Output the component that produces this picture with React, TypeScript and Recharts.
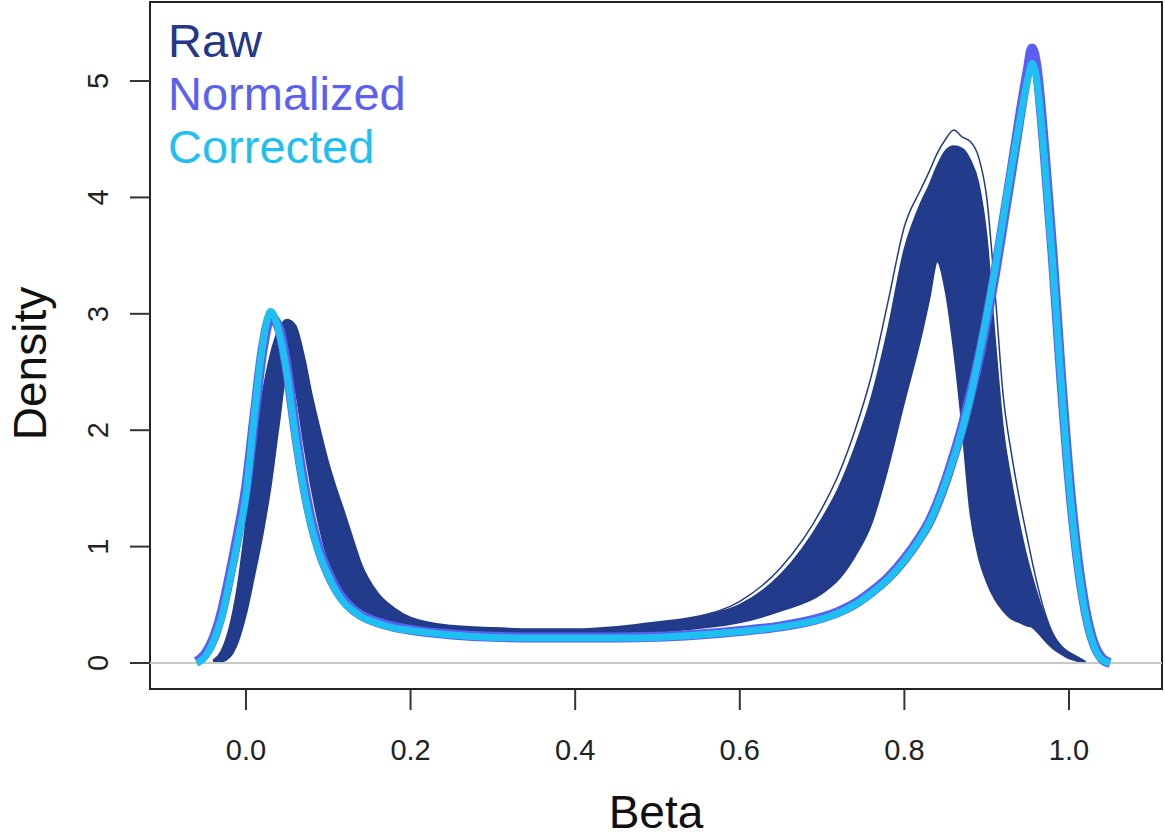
import React from "react"
import {
  ComposedChart,
  Area,
  Line,
  XAxis,
  YAxis,
  Legend,
  Label,
  ReferenceLine,
  ReferenceArea,
} from "recharts"

const betaGrid = [
  -0.06, -0.05, -0.04, -0.03, -0.02, -0.01, 0.0, 0.01, 0.02, 0.03, 0.04, 0.05, 0.06, 0.07, 0.08, 0.09,
  0.1, 0.11, 0.12, 0.13, 0.14, 0.16, 0.18, 0.2, 0.25, 0.3, 0.35, 0.4, 0.45, 0.5, 0.55, 0.6, 0.65, 0.7,
  0.72, 0.74, 0.76, 0.78, 0.8, 0.82, 0.83, 0.84, 0.85, 0.86, 0.87, 0.88, 0.89, 0.9, 0.91, 0.92, 0.93,
  0.94, 0.95, 0.955, 0.96, 0.97, 0.98, 0.99, 1.0, 1.01, 1.02, 1.03, 1.04, 1.05,
]

// raw samples: lowest curve and top of the dense bundle
const rawLow = [
  null, null, 0, 0.01, 0.05, 0.18, 0.42, 0.75, 1.1, 1.52, 2.05, 2.5, 2.35, 1.9, 1.49, 1.15,
  0.88, 0.72, 0.6, 0.52, 0.46, 0.38, 0.33, 0.3, 0.27, 0.26, 0.26, 0.26, 0.265, 0.27, 0.3, 0.35, 0.45, 0.6,
  0.72, 0.92, 1.2, 1.68, 2.25, 2.8, 3.12, 3.45, 3.2, 2.7, 2.05, 1.3, 0.92, 0.7, 0.55, 0.45, 0.38,
  0.35, 0.32, 0.31, 0.28, 0.2, 0.13, 0.08, 0.04, 0.02, 0, null, null, null,
]
const rawHigh = [
  null, null, 0.02, 0.1, 0.3, 0.66, 1.2, 1.8, 2.3, 2.65, 2.87, 2.95, 2.9, 2.65, 2.3, 2.0,
  1.72, 1.49, 1.28, 1.06, 0.85, 0.6, 0.47, 0.39, 0.32, 0.3, 0.29, 0.29, 0.31, 0.35, 0.4, 0.5, 0.76, 1.24,
  1.5, 1.85, 2.28, 2.86, 3.55, 3.95, 4.1, 4.27, 4.4, 4.44, 4.42, 4.32, 4.12, 3.65, 2.78, 2.0, 1.55,
  1.18, 0.87, 0.74, 0.62, 0.41, 0.24, 0.14, 0.09, 0.05, 0.01, null, null, null,
]
// the few outlying raw samples around the high peak
const rawOutlier = [
  null, null, null, null, null, null, null, null, null, null, null, null, null, null, null, null,
  null, null, null, null, null, null, null, null, null, null, null, null, null, null, 0.4, 0.53, 0.82, 1.33,
  1.62, 2.0, 2.47, 3.1, 3.75, 4.07, 4.22, 4.38, 4.5, 4.58, 4.52, 4.48, 4.35, 4.0, 3.2, 2.3, 1.8,
  1.4, 1.05, 0.88, 0.72, 0.45, 0.26, 0.15, 0.09, 0.05, 0.01, null, null, null,
]

const normalizedDensity = [
  0.01, 0.07, 0.2, 0.42, 0.74, 1.1, 1.5, 2.1, 2.68, 2.97, 2.88, 2.52, 2.0, 1.55, 1.2, 0.95,
  0.77, 0.63, 0.53, 0.46, 0.41, 0.35, 0.31, 0.285, 0.245, 0.225, 0.22, 0.22, 0.22, 0.225, 0.245, 0.275, 0.315, 0.39,
  0.44, 0.51, 0.61, 0.73, 0.89, 1.09, 1.21, 1.37, 1.56, 1.78, 2.02, 2.3, 2.6, 2.95, 3.34, 3.78, 4.22,
  4.68, 5.1, 5.28, 5.15, 4.42, 3.52, 2.5, 1.6, 0.92, 0.45, 0.17, 0.04, 0,
]

const correctedDensity = [
  0, 0.05, 0.18, 0.38, 0.7, 1.05, 1.45, 2.12, 2.72, 3.02, 2.85, 2.48, 1.95, 1.5, 1.16, 0.92,
  0.75, 0.61, 0.51, 0.45, 0.4, 0.34, 0.3, 0.28, 0.24, 0.22, 0.215, 0.215, 0.215, 0.22, 0.24, 0.27, 0.31, 0.38,
  0.43, 0.5, 0.6, 0.72, 0.88, 1.08, 1.2, 1.36, 1.55, 1.76, 2.0, 2.28, 2.62, 2.98, 3.38, 3.82, 4.25,
  4.65, 5.02, 5.15, 5.05, 4.35, 3.45, 2.45, 1.55, 0.88, 0.42, 0.15, 0.03, 0,
]

const xTicks = [0, 0.2, 0.4, 0.6, 0.8, 1.0]
const yTicks = [0, 1, 2, 3, 4, 5]

const legendItems = [
  { name: "Raw", color: "#25378a" },
  { name: "Normalized", color: "#5b5ff2" },
  { name: "Corrected", color: "#1ec0f2" },
]

const X_DOMAIN = [-0.1166, 1.113]
const Y_DOMAIN = [-0.2234, 5.679]
const FONT = "'Liberation Sans', Arial, sans-serif"
const RAW = "#233b8b"

const data = betaGrid.map((x, i) => ({
  x,
  raw: rawLow[i] == null ? null : [rawLow[i], rawHigh[i]],
  outlier: rawOutlier[i],
  normalized: normalizedDensity[i],
  corrected: correctedDensity[i],
}))

const YTick = ({ x, y, payload }: any) => (
  <text
    x={x}
    y={y}
    transform={`rotate(-90 ${x} ${y})`}
    textAnchor="middle"
    fontSize={29}
    fontFamily={FONT}
    fill="#222"
  >
    {payload.value}
  </text>
)

const DensityLabel = ({ viewBox }: any) => {
  const x = viewBox.x + 46
  const y = viewBox.y + viewBox.height / 2 + 18
  return (
    <text x={x} y={y} transform={`rotate(-90 ${x} ${y})`} textAnchor="middle" fontSize={46} fontFamily={FONT} fill="#111">
      Density
    </text>
  )
}

const BetaLabel = ({ viewBox }: any) => (
  <text
    x={viewBox.x + viewBox.width / 2}
    y={viewBox.y + viewBox.height - 9}
    textAnchor="middle"
    fontSize={46}
    fontFamily={FONT}
    fill="#111"
  >
    Beta
  </text>
)

const LegendBox = () => (
  <div style={{ fontFamily: FONT, fontSize: 47, lineHeight: "53px" }}>
    {legendItems.map((it) => (
      <div key={it.name} style={{ color: it.color }}>
        {it.name}
      </div>
    ))}
  </div>
)

export default function App() {
  return (
    <div style={{ position: "absolute", left: 0, top: 0, width: 1165, height: 837, background: "#fff" }}>
      <ComposedChart width={1165} height={837} data={data} margin={{ top: 2, right: 3, bottom: 0, left: 0 }}>
        <XAxis
          dataKey="x"
          type="number"
          domain={X_DOMAIN}
          ticks={xTicks}
          allowDataOverflow
          tickFormatter={(v) => v.toFixed(1)}
          height={148}
          tickSize={21}
          tickMargin={29}
          axisLine={false}
          tickLine={{ stroke: "#333", strokeWidth: 2 }}
          tick={{ fontSize: 29, fontFamily: FONT, fill: "#222" }}
        >
          <Label content={BetaLabel} />
        </XAxis>
        <YAxis
          type="number"
          domain={Y_DOMAIN}
          ticks={yTicks}
          allowDataOverflow
          width={150}
          tickSize={20}
          tickMargin={22}
          axisLine={false}
          tickLine={{ stroke: "#333", strokeWidth: 2 }}
          tick={<YTick />}
        >
          <Label content={DensityLabel} />
        </YAxis>
        <ReferenceLine y={0} stroke="#c8c8c8" strokeWidth={2} />
        <Line
          dataKey="outlier"
          type="monotone"
          stroke={RAW}
          strokeWidth={1.5}
          dot={false}
          connectNulls={false}
          isAnimationActive={false}
        />
        <Area
          dataKey="raw"
          type="monotone"
          stroke={RAW}
          strokeWidth={2}
          fill={RAW}
          fillOpacity={1}
          isAnimationActive={false}
        />
        <Line
          dataKey="normalized"
          type="monotone"
          stroke="#5b5ff2"
          strokeWidth={10}
          dot={false}
          isAnimationActive={false}
        />
        <Line
          dataKey="corrected"
          type="monotone"
          stroke="#1ec0f2"
          strokeWidth={7}
          dot={false}
          isAnimationActive={false}
        />
        <ReferenceArea
          x1={X_DOMAIN[0]}
          x2={X_DOMAIN[1]}
          y1={Y_DOMAIN[0]}
          y2={Y_DOMAIN[1]}
          fill="none"
          stroke="#222"
          strokeWidth={2}
          ifOverflow="visible"
        />
        <Legend
          layout="vertical"
          align="center"
          verticalAlign="middle"
          content={LegendBox}
          wrapperStyle={{ left: 168, top: 14, width: 400 }}
        />
      </ComposedChart>
    </div>
  )
}
